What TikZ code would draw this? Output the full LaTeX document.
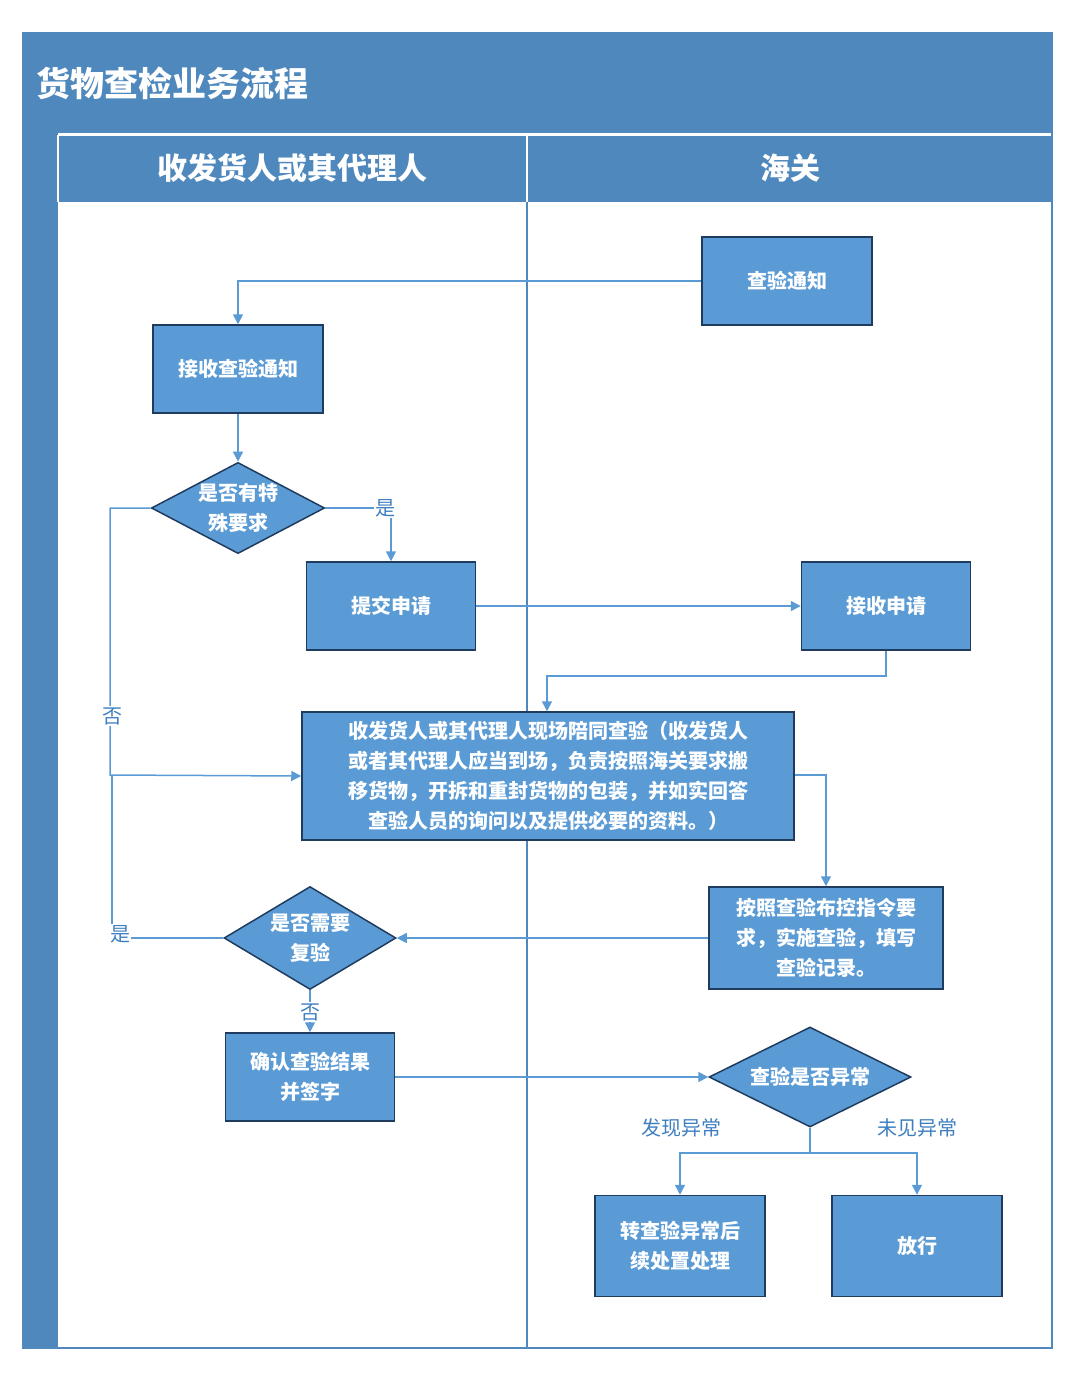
\documentclass[tikz,border=0pt]{standalone}
\usepackage{fontspec}
\newfontfamily\cjk{Noto Sans CJK SC}
\usetikzlibrary{shapes.geometric,arrows.meta}
\definecolor{band}{HTML}{4F88BD}
\definecolor{boxf}{HTML}{5B9BD5}
\definecolor{edge}{HTML}{1F3C5E}
\definecolor{lnk}{HTML}{5B9BD5}
\definecolor{lab}{HTML}{3F7FC0}
\begin{document}
\begin{tikzpicture}[x=1pt,y=-1pt,
  box/.style={draw=edge,line width=1.5pt,fill=boxf,text=white,font=\cjk\bfseries\fontsize{20}{30}\selectfont,align=center,inner sep=0pt},
  dia/.style={diamond,aspect=1.9,draw=edge,line width=1.5pt,fill=boxf,text=white,font=\cjk\bfseries\fontsize{20}{30}\selectfont,align=center,inner sep=0pt},
  link/.style={draw=lnk,line width=1.5pt},
  arr/.style={link,-{Triangle[length=10pt,width=10pt]}},
  lbl/.style={text=lab,font=\cjk\fontsize{20}{24}\selectfont,fill=white,inner sep=1pt}]
\useasboundingbox (0,0) rectangle (1080,1385);
% frame
\fill[band] (23,33) rectangle (1052,133);
\fill[band] (23,133) rectangle (58,1348);
\fill[band] (58,135) rectangle (1052,202);
\draw[white,line width=1.5pt] (58,135) -- (1052,135) (527,135) -- (527,202) (58,135)--(58,202);
\draw[band,line width=1.5pt] (23,33) rectangle (1052,1348);
\draw[band,line width=1.5pt] (527,202) -- (527,1348);
\node[anchor=west,text=white,font=\cjk\bfseries\fontsize{34}{40}\selectfont] (title) at (33,83) {货物查检业务流程};
\node[text=white,font=\cjk\bfseries\fontsize{30}{36}\selectfont] (h1) at (292,168) {收发货人或其代理人};
\node[text=white,font=\cjk\bfseries\fontsize{30}{36}\selectfont] (h2) at (790,168) {海关};
% nodes
\node[box,minimum width=170pt,minimum height=88pt] (n1) at (787,281) {查验通知};
\node[box,minimum width=170pt,minimum height=88pt] (n2) at (238,369) {接收查验通知};
\node[dia,minimum width=168pt,minimum height=88pt] (d1) at (238,508) {是否有特\\殊要求};
\node[box,minimum width=169pt,minimum height=88pt] (n3) at (391,606) {提交申请};
\node[box,minimum width=169pt,minimum height=88pt] (n4) at (886,606) {接收申请};
\node[box,minimum width=492pt,minimum height=128pt] (n5) at (548,776) {收发货人或其代理人现场陪同查验（收发货人\\或者其代理人应当到场，负责按照海关要求搬\\移货物，开拆和重封货物的包装，并如实回答\\查验人员的询问以及提供必要的资料。）};
\node[box,minimum width=234pt,minimum height=102pt] (n6) at (826,938) {按照查验布控指令要\\求，实施查验，填写\\查验记录。};
\node[dia,minimum width=168pt,minimum height=103pt] (d2) at (310,938) {是否需要\\复验};
\node[box,minimum width=169pt,minimum height=88pt] (n7) at (310,1077) {确认查验结果\\并签字};
\node[dia,minimum width=202pt,minimum height=100pt] (d3) at (810,1077) {查验是否异常};
\node[box,minimum width=170pt,minimum height=101pt] (n8) at (680,1246) {转查验异常后\\续处置处理};
\node[box,minimum width=170pt,minimum height=101pt] (n9) at (917,1246) {放行};
% coordinates
\coordinate (c1) at (238,281);
\coordinate (c2) at (391,508);
\coordinate (c3) at (110,508);
\coordinate (c4) at (110,775);
\coordinate (c5) at (886,676);
\coordinate (c6) at (547,676);
\coordinate (c7) at (826,775);
\coordinate (c8) at (112,938);
\coordinate (c9) at (112,775);
\coordinate (c10) at (810,1153);
\coordinate (c11) at (680,1153);
\coordinate (c12) at (917,1153);
% links
\draw[arr] (n1.west) -- (c1) -- (n2.north);
\draw[arr] (n2.south) -- (d1.north);
\draw[arr] (d1.east) -- (c2) -- (n3.north);
\node[lbl] (l1) at (385,508) {是};
\draw[arr] (d1.west) -- (c3) -- (c4) -- (n5.west);
\node[lbl] (l2) at (112,716) {否};
\draw[arr] (n3.east) -- (n4.west);
\draw[arr] (n4.south) -- (c5) -- (c6) -- (n5.north -| c6);
\draw[arr] (n5.east |- c7) -- (c7) -- (n6.north);
\draw[arr] (n6.west) -- (d2.east);
\draw[link] (d2.west) -- (c8) -- (c9);
\node[lbl] (l3) at (120,934) {是};
\draw[arr] (d2.south) -- (n7.north);
\node[lbl] (l4) at (310,1012) {否};
\draw[arr] (n7.east) -- (d3.west);
\draw[link] (d3.south) -- (c10);
\draw[arr] (c10) -- (c11) -- (n8.north);
\draw[arr] (c10) -- (c12) -- (n9.north);
\node[lbl] (l5) at (681,1128) {发现异常};
\node[lbl] (l6) at (917,1128) {未见异常};
\end{tikzpicture}
\end{document}
